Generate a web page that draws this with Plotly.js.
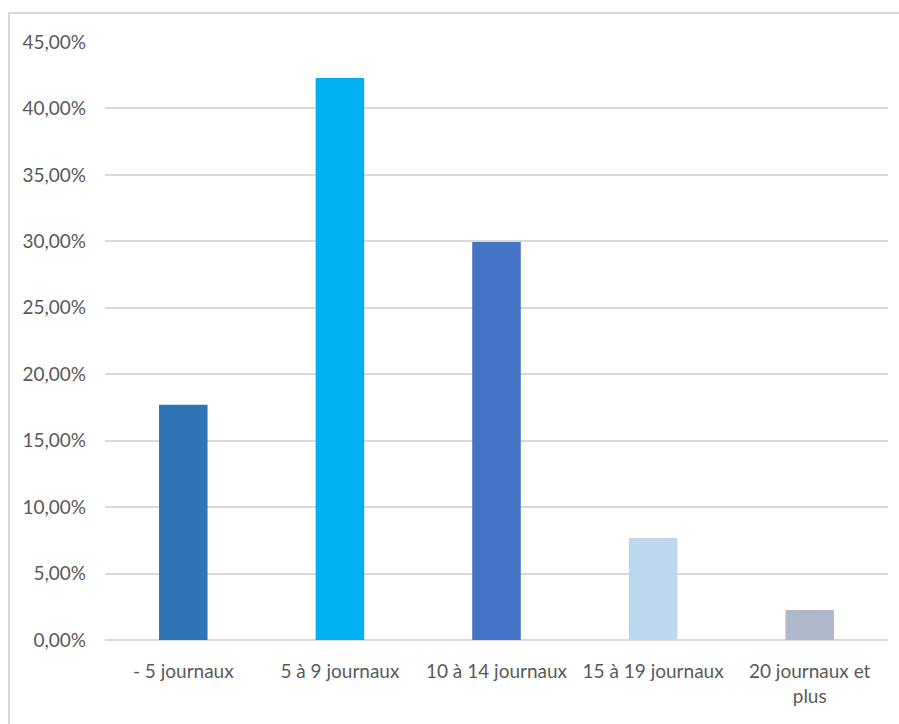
<!DOCTYPE html>
<html><head><meta charset="utf-8">
<script src="https://cdn.plot.ly/plotly-3.0.1.min.js"></script>
<style>
body{margin:0;background:#fff;}
#frame{position:absolute;left:8px;top:12px;width:1000px;height:1000px;border-left:2px solid #d9d9d9;border-top:2px solid #d9d9d9;}
#chart{position:absolute;left:0;top:0;width:899px;height:724px;}
</style></head>
<body>
<div id="frame"></div>
<div id="chart"></div>
<script>
var categories = ["- 5 journaux", "5 à 9 journaux", "10 à 14 journaux", "15 à 19 journaux", "20 journaux et<br>plus"];
var values = [0.177, 0.423, 0.2995, 0.0768, 0.0226];
var colors = ["#2E75B6", "#00B0F0", "#4472C4", "#BDD7EE", "#ADB9CA"];
var tickVals = [0, 0.05, 0.10, 0.15, 0.20, 0.25, 0.30, 0.35, 0.40, 0.45];

Plotly.newPlot('chart', [{
  type: 'bar', x: categories, y: values,
  marker: {color: colors},
  hoverinfo: 'none'
}], {
  width: 899, height: 724,
  paper_bgcolor: 'rgba(0,0,0,0)', plot_bgcolor: 'rgba(0,0,0,0)',
  margin: {l: 105, r: 11, t: 42, b: 84},
  separators: ', ',
  bargap: 0.69,
  showlegend: false,
  font: {family: 'Lato, "Open Sans", sans-serif', size: 19, color: '#595959'},
  xaxis: {showgrid: false, showline: false, zeroline: false, ticks: '', ticklabelstandoff: 18, tickfont: {size: 19, color: '#595959'}},
  yaxis: {range: [0, 0.45], tickvals: tickVals, tickformat: '.2%', showgrid: true, gridcolor: '#d9d9d9', gridwidth: 2,
    zeroline: true, zerolinecolor: '#d9d9d9', zerolinewidth: 2, showline: false, ticks: '', ticklabelstandoff: 18,
    tickfont: {size: 19, color: '#595959'}}
}, {staticPlot: true});
</script>
</body></html>
